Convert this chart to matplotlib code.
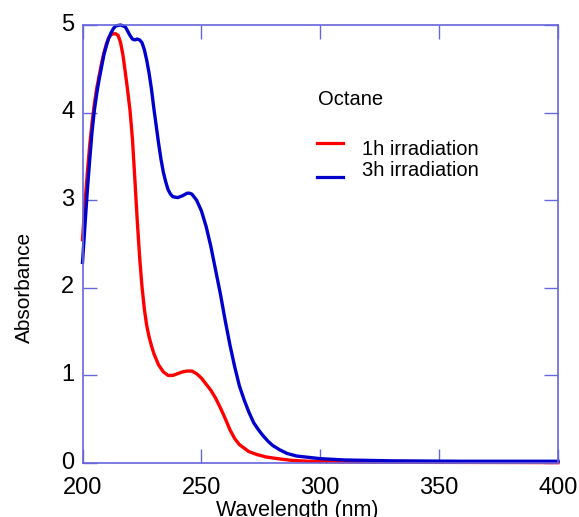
import matplotlib
matplotlib.use('Agg')
import matplotlib.pyplot as plt
from matplotlib.transforms import ScaledTranslation

plt.rcParams['font.family'] = ['Liberation Sans', 'DejaVu Sans']

# 数据
wl_1h = [200, 201, 202, 203, 204, 205, 206, 207, 208, 209, 210, 211, 212, 213, 214, 215,
         216, 217, 218, 219, 220, 221, 222, 223, 224, 225, 226, 227, 228, 229, 230, 232,
         234, 236, 238, 240, 242, 244, 246, 248, 250, 252, 254, 256, 258, 260, 262, 264,
         266, 268, 270, 273, 277, 282, 288, 295, 310, 340, 400]
abs_1h = [2.55, 2.95, 3.30, 3.62, 3.88, 4.10, 4.28, 4.42, 4.56, 4.68, 4.78, 4.85, 4.89, 4.90, 4.90, 4.88,
          4.80, 4.66, 4.46, 4.25, 4.02, 3.70, 3.25, 2.78, 2.36, 2.02, 1.76, 1.57, 1.44, 1.34, 1.25, 1.12,
          1.04, 1.00, 1.00, 1.02, 1.04, 1.05, 1.05, 1.02, 0.97, 0.90, 0.83, 0.74, 0.63, 0.51, 0.38, 0.28,
          0.21, 0.17, 0.13, 0.10, 0.07, 0.05, 0.03, 0.02, 0.012, 0.008, 0.005]

wl_3h = [200, 201, 202, 203, 204, 205, 206, 207, 208, 209, 210, 211, 212, 213, 214, 216,
         218, 219, 220, 221, 222, 223, 224, 225, 226, 227, 228, 229, 230, 231, 232, 233,
         234, 235, 236, 237, 238, 240, 242, 244, 245, 246, 248, 250, 252, 254, 256, 258,
         260, 262, 264, 266, 268, 270, 272, 274, 276, 278, 280, 283, 286, 290, 295, 300,
         310, 330, 360, 400]
abs_3h = [2.29, 2.70, 3.10, 3.45, 3.78, 4.03, 4.22, 4.38, 4.52, 4.66, 4.76, 4.85, 4.91, 4.96, 4.99, 5.00,
          4.98, 4.93, 4.88, 4.84, 4.83, 4.84, 4.83, 4.80, 4.72, 4.60, 4.45, 4.27, 4.05, 3.85, 3.65, 3.47,
          3.32, 3.21, 3.12, 3.07, 3.04, 3.03, 3.05, 3.08, 3.08, 3.07, 3.00, 2.88, 2.70, 2.47, 2.20, 1.93,
          1.63, 1.35, 1.10, 0.88, 0.72, 0.58, 0.46, 0.38, 0.31, 0.25, 0.20, 0.15, 0.11, 0.08, 0.065, 0.05,
          0.035, 0.025, 0.02, 0.02]

x_ticks = [200, 250, 300, 350, 400]
y_ticks = [0, 1, 2, 3, 4, 5]

RED = '#ff0000'
BLUE = '#0000cc'
FRAME = '#6666dd'

fig = plt.figure(figsize=(5.79, 5.17), dpi=100)
ax = fig.add_axes([0.1425, 0.1044, 0.8212, 0.8472])

ax.plot(wl_1h, abs_1h, color=RED, linewidth=2.4, clip_on=False)
ax.plot(wl_3h, abs_3h, color=BLUE, linewidth=2.4, clip_on=False)

ax.set_xlim(200, 400)
ax.set_ylim(0, 5)
ax.set_xticks(x_ticks)
ax.set_yticks(y_ticks)
ax.tick_params(direction='in', length=10, width=1, color=FRAME,
               top=True, right=True, labelsize=17)
ax.tick_params(axis='x', pad=10)
ax.tick_params(axis='y', pad=6)
for s in ax.spines.values():
    s.set_color(FRAME)
    s.set_linewidth(1.2)

# y 刻度标签略微上移，与原图一致
shift = ScaledTranslation(0, 0.03, fig.dpi_scale_trans)
for lab in ax.get_yticklabels():
    lab.set_transform(lab.get_transform() + shift)

# 坐标轴标题（原图位置偏移，x 标题在底部被截断）
fig.text(297 / 579, 1 - 516 / 517, 'Wavelength (nm)', ha='center', va='baseline', fontsize=15.5)
fig.text(24 / 579, 1 - 287 / 517, 'Absorbance', ha='center', va='center',
         rotation=90, fontsize=15)

# 图例（手动绘制）
ax.text(0.495, 0.829, 'Octane', transform=ax.transAxes, ha='left', va='center', fontsize=14.5)
ax.plot([0.493, 0.548], [0.731, 0.731], color=RED, linewidth=2.3, transform=ax.transAxes)
ax.plot([0.493, 0.548], [0.653, 0.653], color=BLUE, linewidth=2.3, transform=ax.transAxes)
ax.text(0.588, 0.715, '1h irradiation', transform=ax.transAxes, ha='left', va='center', fontsize=14.5)
ax.text(0.588, 0.667, '3h irradiation', transform=ax.transAxes, ha='left', va='center', fontsize=14.5)

fig.savefig('out.png', dpi=100)
